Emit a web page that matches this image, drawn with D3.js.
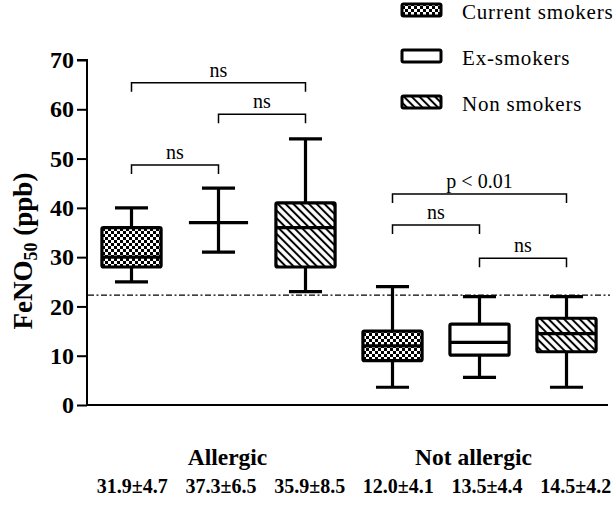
<!DOCTYPE html>
<html>
<head>
<meta charset="utf-8">
<script src="https://cdn.jsdelivr.net/npm/d3@7"></script>
<style>
  body { margin: 0; background: #fff; }
  svg text { font-family: 'Liberation Serif', 'Times New Roman', serif; fill: #000; }
</style>
</head>
<body>
<svg id="chart" width="616" height="513"></svg>
<script>
// categories: group x smoking status
const groups = ['Allergic', 'Not allergic'];
const smoking = ['Current smokers', 'Ex-smokers', 'Non smokers'];
const categories = ['A-current', 'A-ex', 'A-non', 'N-current', 'N-ex', 'N-non'];
const fills = ['checker', 'plain', 'hatch', 'checker', 'plain', 'hatch'];

// box plot values (ppb)
const whiskLow = [25, 31, 23, 3.6, 5.6, 3.6];
const q1 = [28, 37, 28, 9, 10.1, 10.8];
const median = [30, 37, 36, 12, 12.7, 14.5];
const q3 = [36, 37, 41, 15, 16.4, 17.6];
const whiskHigh = [40, 44, 54, 24, 22, 22];
const meanSd = ['31.9±4.7', '37.3±6.5', '35.9±8.5', '12.0±4.1', '13.5±4.4', '14.5±4.2'];
const cutoff = 22.3;

// comparison brackets
const bracketFrom = [0, 1, 0, 3, 3, 4];
const bracketTo = [2, 2, 1, 5, 4, 5];
const bracketLevel = [65.4, 59, 48.7, 42.8, 36.5, 29.8];
const bracketLabel = ['ns', 'ns', 'ns', 'p < 0.01', 'ns', 'ns'];

const yTicks = [0, 10, 20, 30, 40, 50, 60, 70];

const svg = d3.select('#chart');
const mLeft = 88, mRight = 610, mTop = 60, mBottom = 405;

// patterns
const defs = svg.append('defs');
const checker = defs.append('pattern')
  .attr('id', 'checker')
  .attr('patternUnits', 'userSpaceOnUse')
  .attr('width', 6)
  .attr('height', 6);
checker.append('rect').attr('width', 6).attr('height', 6).attr('fill', '#fff');
checker.append('rect').attr('width', 3).attr('height', 3).attr('fill', '#000');
checker.append('rect').attr('x', 3).attr('y', 3).attr('width', 3).attr('height', 3).attr('fill', '#000');
const hatch = defs.append('pattern')
  .attr('id', 'hatch')
  .attr('patternUnits', 'userSpaceOnUse')
  .attr('width', 5.5)
  .attr('height', 5.5)
  .attr('patternTransform', 'rotate(-45)');
hatch.append('rect').attr('width', 5.5).attr('height', 5.5).attr('fill', '#fff');
hatch.append('line')
  .attr('x1', 2.75).attr('y1', 0).attr('x2', 2.75).attr('y2', 5.5)
  .attr('stroke', '#000')
  .attr('stroke-width', 2);
const fillOf = f => (f === 'plain' ? '#fff' : `url(#${f})`);

// scales
const x = d3.scaleBand().domain(categories).range([mLeft, mRight]);
const xStat = d3.scaleBand().domain(categories).range([mLeft, mRight + 10]);
const y = d3.scaleLinear().domain([0, 70]).range([mBottom, mTop]);
const step = x.step();
const boxW = step * 0.68;
const capW = step * 0.38;
const cx = i => x(categories[i]) + x.bandwidth() / 2;

// y axis
const yAxis = d3.axisLeft(y)
  .tickValues(yTicks)
  .tickSize(10)
  .tickPadding(3);
const ga = svg.append('g')
  .attr('transform', `translate(${mLeft - 1},0)`)
  .call(yAxis);
ga.select('.domain').attr('stroke-width', 2).attr('d', `M-10,${mTop}H0V${mBottom}`);
ga.selectAll('.tick line').attr('stroke-width', 2);
ga.selectAll('.tick text')
  .attr('font-family', 'Liberation Serif')
  .attr('font-size', 24)
  .attr('font-weight', 'bold');
// x axis line
svg.append('line')
  .attr('x1', mLeft - 1).attr('x2', mRight - 2)
  .attr('y1', y(0)).attr('y2', y(0))
  .attr('stroke', '#000')
  .attr('stroke-width', 2);

// y title
const yt = svg.append('text')
  .attr('transform', `translate(32,${251}) rotate(-90)`)
  .attr('text-anchor', 'middle')
  .attr('font-size', 27)
  .attr('font-weight', 'bold');
yt.append('tspan').text('FeNO');
yt.append('tspan').attr('font-size', 18).attr('dy', 5).text('50');
yt.append('tspan').attr('dy', -5).text(' (ppb)');

// cutoff line
svg.append('line')
  .attr('x1', mLeft).attr('x2', mRight)
  .attr('y1', y(cutoff)).attr('y2', y(cutoff))
  .attr('stroke', '#000')
  .attr('stroke-width', 1.4)
  .attr('stroke-dasharray', '6,2.5,2,2.5');

// boxes
const boxes = svg.append('g').attr('class', 'boxes');
categories.forEach((c, i) => {
  const g = boxes.append('g');
  const xc = cx(i);
  g.append('line')
    .attr('x1', xc).attr('x2', xc)
    .attr('y1', y(whiskHigh[i])).attr('y2', y(whiskLow[i]))
    .attr('stroke', '#000').attr('stroke-width', 3.2);
  [whiskHigh[i], whiskLow[i]].forEach(v => {
    g.append('line')
      .attr('x1', xc - capW / 2).attr('x2', xc + capW / 2)
      .attr('y1', y(v)).attr('y2', y(v))
      .attr('stroke', '#000').attr('stroke-width', 3.2);
  });
  if (q3[i] > q1[i]) {
    g.append('rect')
      .attr('x', xc - boxW / 2)
      .attr('y', y(q3[i]))
      .attr('width', boxW)
      .attr('height', y(q1[i]) - y(q3[i]))
      .attr('rx', 1.5)
      .attr('fill', fillOf(fills[i]))
      .attr('stroke', '#000')
      .attr('stroke-width', 3.2);
  }
  g.append('line')
    .attr('x1', xc - boxW / 2).attr('x2', xc + boxW / 2)
    .attr('y1', y(median[i])).attr('y2', y(median[i]))
    .attr('stroke', '#000').attr('stroke-width', 3.2);
});

// brackets
const br = svg.append('g').attr('class', 'brackets');
bracketLabel.forEach((lab, i) => {
  const x1 = cx(bracketFrom[i]);
  const x2 = cx(bracketTo[i]);
  const yb = y(bracketLevel[i]);
  br.append('path')
    .attr('d', `M${x1},${yb + 9}V${yb}H${x2}V${yb + 9}`)
    .attr('fill', 'none')
    .attr('stroke', '#000')
    .attr('stroke-width', 1.5);
  br.append('text')
    .attr('x', (x1 + x2) / 2)
    .attr('y', yb - 6)
    .attr('text-anchor', 'middle')
    .attr('font-size', 20)
    .text(lab);
});

// group labels
groups.forEach((gname, k) => {
  svg.append('text')
    .attr('x', cx(k * 3 + 1) + (k === 0 ? 9 : -6))
    .attr('y', 465)
    .attr('text-anchor', 'middle')
    .attr('font-size', 23.5)
    .attr('font-weight', 'bold')
    .text(gname);
});

// mean ± sd row
svg.append('g').selectAll('text')
  .data(meanSd)
  .enter()
  .append('text')
  .attr('x', (d, i) => xStat(categories[i]) + xStat.bandwidth() / 2)
  .attr('y', 493)
  .attr('text-anchor', 'middle')
  .attr('font-size', 20)
  .attr('font-weight', 'bold')
  .text(d => d);

// legend
const legend = svg.append('g').attr('class', 'legend');
smoking.forEach((s, i) => {
  const ly = 10 + i * 46;
  legend.append('rect')
    .attr('x', 402).attr('y', ly - 6)
    .attr('width', 39).attr('height', 12)
    .attr('rx', 1.5)
    .attr('fill', fillOf(fills[i]))
    .attr('stroke', '#000')
    .attr('stroke-width', 3);
  legend.append('text')
    .attr('x', 462)
    .attr('y', ly + 9)
    .attr('font-size', 21)
    .attr('letter-spacing', 0.8)
    .text(s);
});
</script>
</body>
</html>
